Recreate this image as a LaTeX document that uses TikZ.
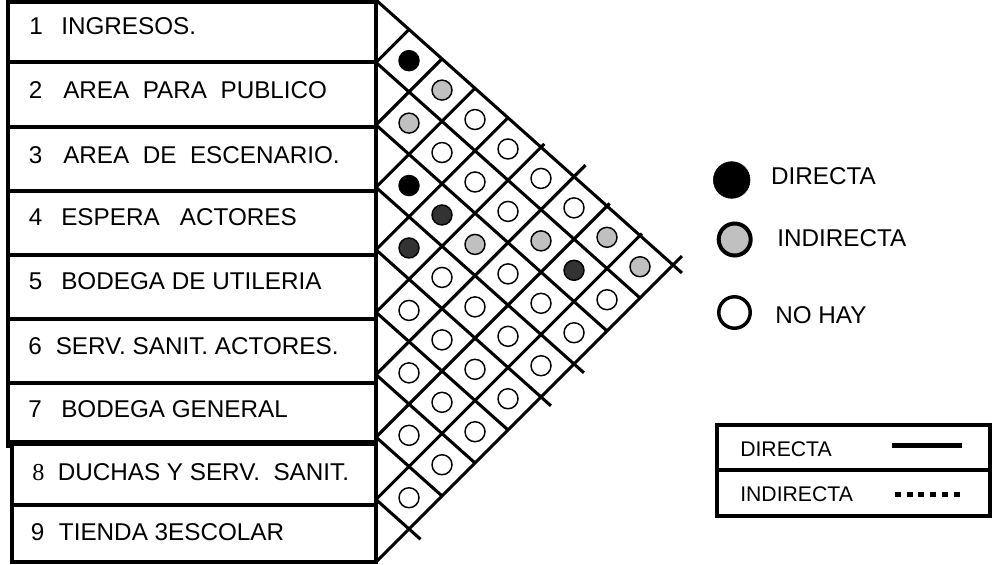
\documentclass[tikz,border=0pt]{standalone}
\usepackage{fontspec}
\setmainfont{Liberation Sans}
\newfontfamily\serifnum{Liberation Serif}
\definecolor{lightdot}{HTML}{C0C0C0}
\definecolor{darkdot}{HTML}{333333}
\frenchspacing
\begin{document}
\begin{tikzpicture}[x=0.75pt,y=-0.75pt,
  boxline/.style={line width=2.3pt},
  gridline/.style={line width=2.3pt},
  lbl/.style={anchor=base west, inner sep=0pt, font=\fontsize{18.2pt}{21pt}\selectfont},
  smalllbl/.style={anchor=base west, inner sep=0pt, font=\fontsize{15.9pt}{18pt}\selectfont},
  dot/.style={circle, draw=black, line width=1.1pt, minimum size=15pt, inner sep=0pt},
  bigdot/.style={circle, draw=black, inner sep=0pt},
]
\useasboundingbox (0,0) rectangle (992,564);

% row boxes
\draw[boxline] (8,2) rectangle (376,62);
\draw[boxline] (8,62) rectangle (376,127);
\draw[boxline] (8,127) rectangle (376,191);
\draw[boxline] (8,191) rectangle (376,255);
\draw[boxline] (8,255) rectangle (376,319);
\draw[boxline] (8,319) rectangle (376,383);
\draw[boxline] (8,383) rectangle (376,442);
\draw[boxline] (8,442) -- (8,448);
\draw[boxline] (12,444) rectangle (376,505);
\draw[boxline] (12,505) rectangle (376,562);
\draw[boxline] (376,0) -- (376,564);

% row labels
\node[lbl] (n1) at (29,34) {1};    \node[lbl] (t1) at (61,34) {INGRESOS.};
\node[lbl] (n2) at (28.5,98) {2};  \node[lbl] (t2) at (63,98) {AREA\ \ PARA\ \ PUBLICO};
\node[lbl] (n3) at (28.5,163) {3}; \node[lbl] (t3) at (63,163) {AREA\ \ DE\ \ ESCENARIO.};
\node[lbl] (n4) at (28.5,225) {4}; \node[lbl] (t4) at (61,225) {ESPERA\ \ \ ACTORES};
\node[lbl] (n5) at (28.5,289) {5}; \node[lbl] (t5) at (61,289) {BODEGA DE UTILERIA};
\node[lbl] (n6) at (28,354) {6};   \node[lbl] (t6) at (55.5,354) {SERV. SANIT. ACTORES.};
\node[lbl] (n7) at (28,417) {7};   \node[lbl] (t7) at (61,417) {BODEGA GENERAL};
\node[lbl] (n8) at (32,480) {\serifnum 8}; \node[lbl] (t8) at (57.5,480) {DUCHAS Y SERV.\ \ SANIT.};
\node[lbl] (n9) at (30.5,540) {9}; \node[lbl] (t9) at (58.7,540) {TIENDA 3ESCOLAR};

% relationship grid
\begin{scope}[shift={(282pt,0pt)}, x={(24.75pt,-22.08pt)}, y={(-24.75pt,-24.75pt)}]
  \foreach \k/\e in {0/0.27,1/0,2/0,3/0.3,4/0.3,5/0,6/0,7/0,8/0.35}
    \draw[gridline] (\k,\k) -- ({9+\e},\k);
  \foreach \m/\f in {1/0,2/0,3/0,4/0,5/0.1,6/0.35,7/0.08,8/0.06,9/0.27}
    \draw[gridline] (\m,\m) -- (\m,{-\f});
  \foreach \i/\j/\c in {
      1/2/black, 2/3/lightdot, 3/4/black, 4/5/darkdot, 5/6/white, 6/7/white, 7/8/white, 8/9/white,
      1/3/lightdot, 2/4/white, 3/5/darkdot, 4/6/white, 5/7/white, 6/8/white, 7/9/white,
      1/4/white, 2/5/white, 3/6/lightdot, 4/7/white, 5/8/white, 6/9/white,
      1/5/white, 2/6/white, 3/7/white, 4/8/white, 5/9/white,
      1/6/white, 2/7/lightdot, 3/8/white, 4/9/white,
      1/7/white, 2/8/darkdot, 3/9/white,
      1/8/lightdot, 2/9/white,
      1/9/lightdot}
    \node[dot, fill=\c] (d\i-\j) at ({\j-0.5},{\i-0.5}) {};
\end{scope}

% circle legend
\node[bigdot, fill=black, minimum size=27.5pt] (lgB) at (731.7,180) {};
\node[bigdot, line width=3pt, fill=lightdot, minimum size=24pt] (lgG) at (734.7,239.5) {};
\node[bigdot, line width=2.6pt, fill=white, minimum size=23.6pt] (lgW) at (734.5,312.5) {};
\node[lbl] (lt1) at (770.8,184.3) {DIRECTA};
\node[lbl] (lt2) at (777,246.7) {INDIRECTA};
\node[lbl] (lt3) at (775,323.3) {NO HAY};

% line legend
\draw[boxline] (717,425) rectangle (990,516);
\draw[boxline] (717,470) -- (990,470);
\node[smalllbl] (k1) at (740,456.7) {DIRECTA};
\node[smalllbl] (k2) at (740,501.7) {INDIRECTA};
\coordinate (s1a) at (892,445.7); \coordinate (s1b) at (962,445.7);
\draw[line width=3.75pt] (s1a) -- (s1b);
\coordinate (s2a) at (895,494); \coordinate (s2b) at (960,494);
\draw[line width=3.75pt, dash pattern=on 4.5pt off 4.3pt] (s2a) -- (s2b);
\end{tikzpicture}
\end{document}
